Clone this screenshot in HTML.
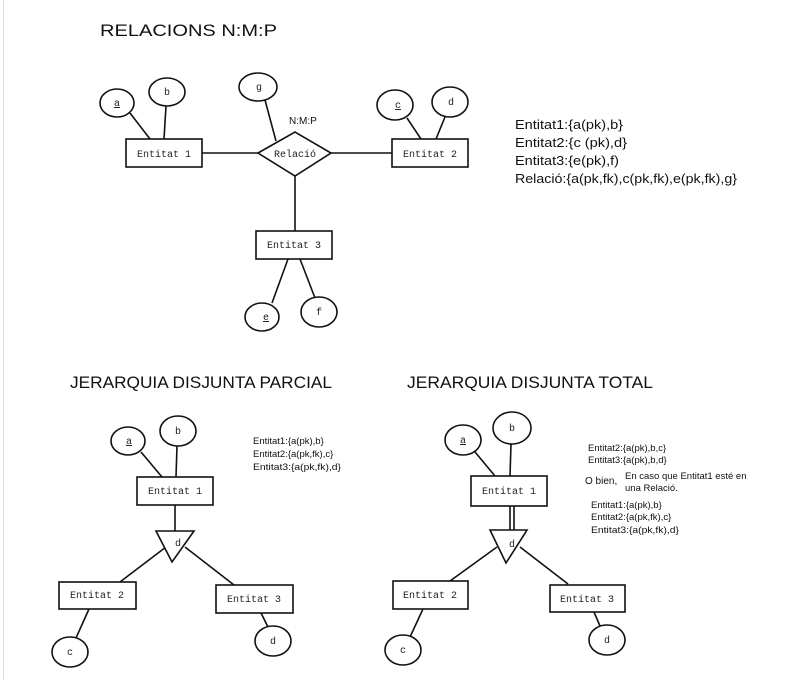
<!DOCTYPE html>
<html><head><meta charset="utf-8"><style>
html,body{margin:0;padding:0;background:#fff;width:798px;height:680px;overflow:hidden}
svg{display:block}
.m{font-family:"Liberation Mono",monospace;font-size:10px;fill:#222}
.s{font-family:"Liberation Sans",sans-serif;fill:#111}
</style></head><body>
<svg width="798" height="680" viewBox="0 0 798 680" xmlns="http://www.w3.org/2000/svg">
<line x1="3.5" y1="0" x2="3.5" y2="680" stroke="#ddd"/>
<g stroke="#111" stroke-width="1.6" fill="#fff">
<line x1="130" y1="113" x2="150" y2="139"/><line x1="166" y1="106" x2="164" y2="139"/>
<line x1="407" y1="118" x2="421" y2="139"/><line x1="445" y1="117" x2="436" y2="139"/>
<line x1="265" y1="100" x2="276" y2="141"/>
<line x1="202" y1="153" x2="258" y2="153"/><line x1="331" y1="153" x2="392" y2="153"/>
<line x1="295" y1="176" x2="295" y2="231"/>
<line x1="288" y1="259" x2="272" y2="303"/><line x1="300" y1="259" x2="315" y2="298"/>
<ellipse cx="117" cy="103" rx="17" ry="14"/><ellipse cx="167" cy="92" rx="18" ry="14"/>
<ellipse cx="258" cy="87" rx="19" ry="14"/>
<ellipse cx="395" cy="105" rx="18" ry="15"/><ellipse cx="450" cy="102" rx="18" ry="15"/>
<ellipse cx="262" cy="317" rx="17" ry="14"/><ellipse cx="319" cy="312" rx="18" ry="15"/>
<rect x="126" y="139" width="76" height="28"/><rect x="392" y="139" width="76" height="28"/>
<rect x="256" y="231" width="76" height="28"/>
<polygon points="258,153 295,132 331,153 295,176"/>
<line x1="141" y1="452" x2="162" y2="477"/><line x1="177" y1="446" x2="176" y2="477"/>
<line x1="175" y1="505" x2="175" y2="531"/>
<line x1="166" y1="547" x2="120" y2="582"/><line x1="185" y1="547" x2="234" y2="585"/>
<line x1="89" y1="609" x2="76" y2="638"/><line x1="261" y1="613" x2="268" y2="627"/>
<ellipse cx="128" cy="441" rx="17" ry="14"/><ellipse cx="178" cy="431" rx="18" ry="15"/>
<ellipse cx="70" cy="652" rx="18" ry="15"/><ellipse cx="273" cy="641" rx="18" ry="15"/>
<rect x="137" y="477" width="76" height="28"/>
<rect x="59" y="582" width="77" height="27"/><rect x="216" y="585" width="77" height="28"/>
<polygon points="156,531 194,531 172,562"/>
<line x1="475" y1="452" x2="495" y2="476"/><line x1="511" y1="444" x2="510" y2="476"/>
<line x1="510" y1="506" x2="510" y2="530"/><line x1="514" y1="506" x2="514" y2="530"/>
<line x1="497" y1="547" x2="450" y2="581"/><line x1="520" y1="547" x2="568" y2="584"/>
<line x1="423" y1="609" x2="410" y2="637"/><line x1="594" y1="612" x2="600" y2="626"/>
<ellipse cx="463" cy="440" rx="18" ry="15"/><ellipse cx="512" cy="428" rx="19" ry="16"/>
<ellipse cx="403" cy="650" rx="18" ry="15"/><ellipse cx="607" cy="640" rx="18" ry="15"/>
<rect x="471" y="476" width="76" height="30"/>
<rect x="393" y="581" width="75" height="28"/><rect x="550" y="585" width="75" height="27"/>
<polygon points="490,530 527,530 506,563"/>
</g>
<g class="m">
<text x="164" y="157" text-anchor="middle">Entitat 1</text>
<text x="430" y="157" text-anchor="middle">Entitat 2</text>
<text x="294" y="248" text-anchor="middle">Entitat 3</text>
<text x="295" y="157" text-anchor="middle">Relació</text>
<text x="117" y="106" text-anchor="middle" text-decoration="underline">a</text>
<text x="167" y="95" text-anchor="middle">b</text>
<text x="259" y="90" text-anchor="middle">g</text>
<text x="398" y="108" text-anchor="middle" text-decoration="underline">c</text>
<text x="451" y="105" text-anchor="middle">d</text>
<text x="266" y="320" text-anchor="middle" text-decoration="underline">e</text>
<text x="319" y="315" text-anchor="middle">f</text>
<text x="175" y="494" text-anchor="middle">Entitat 1</text>
<text x="97" y="598" text-anchor="middle">Entitat 2</text>
<text x="254" y="602" text-anchor="middle">Entitat 3</text>
<text x="129" y="444" text-anchor="middle" text-decoration="underline">a</text>
<text x="178" y="434" text-anchor="middle">b</text>
<text x="178" y="546" text-anchor="middle">d</text>
<text x="70" y="655" text-anchor="middle">c</text>
<text x="273" y="644" text-anchor="middle">d</text>
<text x="509" y="494" text-anchor="middle">Entitat 1</text>
<text x="430" y="598" text-anchor="middle">Entitat 2</text>
<text x="587" y="602" text-anchor="middle">Entitat 3</text>
<text x="463" y="443" text-anchor="middle" text-decoration="underline">a</text>
<text x="512" y="431" text-anchor="middle">b</text>
<text x="512" y="547" text-anchor="middle">d</text>
<text x="403" y="653" text-anchor="middle">c</text>
<text x="607" y="643" text-anchor="middle">d</text>
</g>
<g class="s">
<text x="100" y="36" font-size="17" textLength="177" lengthAdjust="spacingAndGlyphs">RELACIONS N:M:P</text>
<text x="70" y="388" font-size="17" textLength="262" lengthAdjust="spacingAndGlyphs">JERARQUIA DISJUNTA PARCIAL</text>
<text x="407" y="388" font-size="17" textLength="246" lengthAdjust="spacingAndGlyphs">JERARQUIA DISJUNTA TOTAL</text>
<text x="289" y="124" font-size="10">N:M:P</text>
<g font-size="13">
<text x="515" y="129" textLength="108" lengthAdjust="spacingAndGlyphs">Entitat1:{a(pk),b}</text>
<text x="515" y="147" textLength="112" lengthAdjust="spacingAndGlyphs">Entitat2:{c (pk),d}</text>
<text x="515" y="165" textLength="104" lengthAdjust="spacingAndGlyphs">Entitat3:{e(pk),f)</text>
<text x="515" y="183" textLength="222" lengthAdjust="spacingAndGlyphs">Relació:{a(pk,fk),c(pk,fk),e(pk,fk),g}</text>
</g>
<g font-size="9.5">
<text x="253" y="444">Entitat1:{a(pk),b}</text>
<text x="253" y="457">Entitat2:{a(pk,fk),c}</text>
<text x="253" y="470" textLength="88" lengthAdjust="spacingAndGlyphs">Entitat3:{a(pk,fk),d}</text>
<text x="588" y="451">Entitat2:{a(pk),b,c}</text>
<text x="588" y="463">Entitat3:{a(pk),b,d}</text>
<text x="585" y="484" font-size="10">O bien,</text>
<text x="625" y="479">En caso que Entitat1 esté en</text>
<text x="625" y="491">una Relació.</text>
<text x="591" y="508">Entitat1:{a(pk),b}</text>
<text x="591" y="520">Entitat2:{a(pk,fk),c}</text>
<text x="591" y="533" textLength="88" lengthAdjust="spacingAndGlyphs">Entitat3:{a(pk,fk),d}</text>
</g>
</g>
</svg>
</body></html>
